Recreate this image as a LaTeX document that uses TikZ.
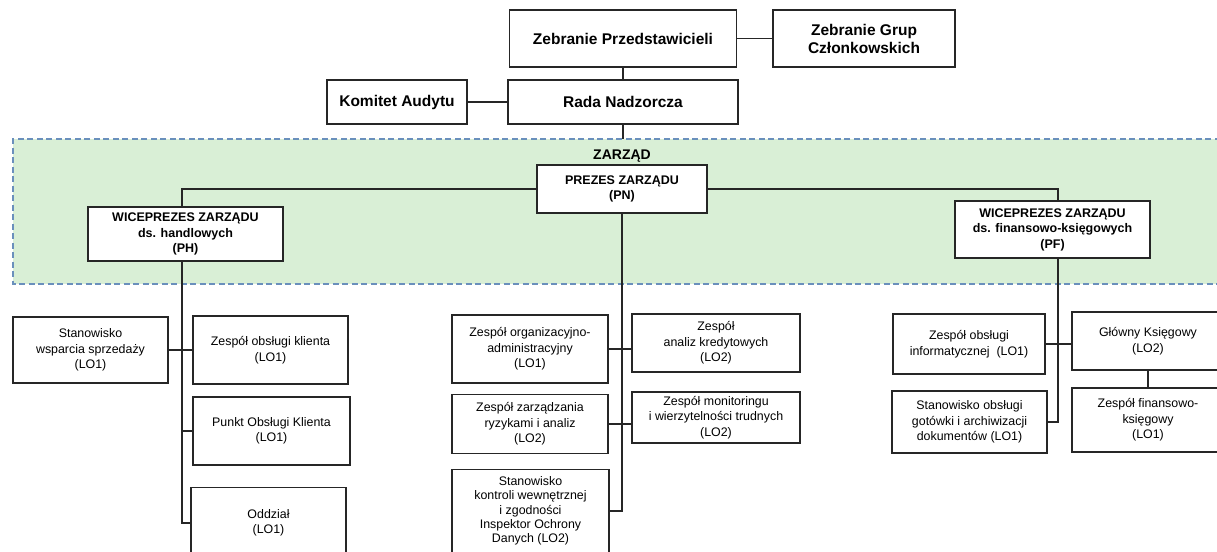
\documentclass[tikz,border=0pt]{standalone}
\usepackage{fontspec}
\setmainfont{Liberation Sans}
\definecolor{bandfill}{HTML}{D9EFD6}
\definecolor{bandline}{HTML}{6A90BC}
\begin{document}
\begin{tikzpicture}[x=1pt,y=-1pt,
  box/.style={draw=black!85, line width=1.3pt, fill=white, inner sep=0pt, align=center},
  topbox/.style={box, font=\fontsize{15.5}{18}\selectfont\bfseries},
  vpbox/.style={box, font=\fontsize{12.5}{15.5}\selectfont\bfseries},
  unit/.style={box, font=\fontsize{12.4}{15.5}\selectfont},
  conn/.style={draw=black!85, line width=1.3pt},
  bandedge/.style={draw=bandline, line width=1.3pt, dash pattern=on 6pt off 3.5pt}]
\useasboundingbox (0,0) rectangle (1217,551);
\clip (0,0) rectangle (1217,551);
\fill[white] (0,0) rectangle (1217,551);
% band
\fill[bandfill] (13,139) rectangle (1230,284);
\draw[bandedge] (1230,139) -- (13,139) -- (13,284) -- (1230,284);
\node[font=\fontsize{14}{16}\selectfont\bfseries] (zl) at (622,156) {ZARZĄD};
% top
\node[topbox, minimum width=227pt, minimum height=57pt] (ZP) at (623,38.5) {Zebranie Przedstawicieli};
\node[topbox, minimum width=182pt, minimum height=57pt] (ZG) at (864,38.5) {Zebranie Grup\\Członkowskich};
\node[topbox, minimum width=230pt, minimum height=44pt] (RN) at (623,102) {Rada Nadzorcza};
\node[topbox, minimum width=140pt, minimum height=44pt] (KA) at (397,102) {Komitet Audytu};
% board
\node[vpbox, minimum width=170pt, minimum height=48pt] (PN) at (622,189) {PREZES ZARZĄDU\\(PN)};
\node[vpbox, minimum width=195pt, minimum height=54pt] (PH) at (185.5,234) {WICEPREZES ZARZĄDU\\ds. handlowych\\(PH)};
\node[vpbox, minimum width=195pt, minimum height=57pt] (PF) at (1052.5,229.5) {WICEPREZES ZARZĄDU\\ds. finansowo-księgowych\\(PF)};
% left units
\node[unit, minimum width=155pt, minimum height=66pt] (SWS) at (90.5,350) {Stanowisko\\wsparcia sprzedaży\\(LO1)};
\node[unit, minimum width=155pt, minimum height=68pt] (ZOK) at (270.5,350) {Zespół obsługi klienta\\(LO1)};
\node[unit, minimum width=157pt, minimum height=68pt] (POK) at (271.5,431) {Punkt Obsługi Klienta\\(LO1)};
\node[unit, minimum width=155pt, minimum height=71pt] (ODD) at (268.5,523) {Oddział\\(LO1)};
% middle units
\node[unit, minimum width=156pt, minimum height=68pt] (ZOA) at (530,349) {Zespół organizacyjno-\\administracyjny\\(LO1)};
\node[unit, minimum width=168pt, minimum height=58pt] (ZAK) at (716,343) {Zespół\\analiz kredytowych\\(LO2)};
\node[unit, minimum width=156pt, minimum height=59pt] (ZZR) at (530,424) {Zespół zarządzania\\ryzykami i analiz\\(LO2)};
\node[unit, minimum width=168pt, minimum height=51pt] (ZMW) at (716,417.5) {Zespół monitoringu\\i wierzytelności trudnych\\(LO2)};
\node[unit, font=\fontsize{12.4}{14.3}\selectfont, minimum width=157pt, minimum height=83pt] (SKW) at (530.5,511) {Stanowisko\\kontroli wewnętrznej\\i zgodności\\Inspektor Ochrony\\Danych (LO2)};
% right units
\node[unit, minimum width=152pt, minimum height=60pt] (ZOI) at (969,344) {Zespół obsługi\\informatycznej\ \ (LO1)};
\node[unit, minimum width=152pt, minimum height=58pt] (GK) at (1148,341) {Główny Księgowy\\(LO2)};
\node[unit, minimum width=155pt, minimum height=62pt] (SOG) at (969.5,422) {Stanowisko obsługi\\gotówki i archiwizacji\\dokumentów (LO1)};
\node[unit, minimum width=152pt, minimum height=64pt] (ZFK) at (1148,420) {Zespół finansowo-\\księgowy\\(LO1)};
% coordinates
\coordinate (zt) at (623,139);
\coordinate (tl) at (182,261);
\coordinate (tr) at (1058,258);
% connectors
\draw[conn] (ZP.east) -- (ZG.west);
\draw[conn] (ZP.south) -- (RN.north);
\draw[conn] (KA.east) -- (RN.west);
\draw[conn] (RN.south) -- (zt);
\draw[conn] (PN.west) -| (tl |- PH.north);
\draw[conn] (PN.east) -| (tr |- PF.north);
\draw[conn] (tl) |- (ODD.west);
\draw[conn] (SWS.east) -- (ZOK.west);
\draw[conn] (tl |- POK.west) -- (POK.west);
\draw[conn] (PN.south) |- (SKW.east);
\draw[conn] (ZOA.east) -- (ZOA.east -| ZAK.west);
\draw[conn] (ZZR.east) -- (ZZR.east -| ZMW.west);
\draw[conn] (tr) |- (SOG.east);
\draw[conn] (ZOI.east) -- (ZOI.east -| GK.west);
\draw[conn] (GK.south) -- (ZFK.north);
\end{tikzpicture}
\end{document}
